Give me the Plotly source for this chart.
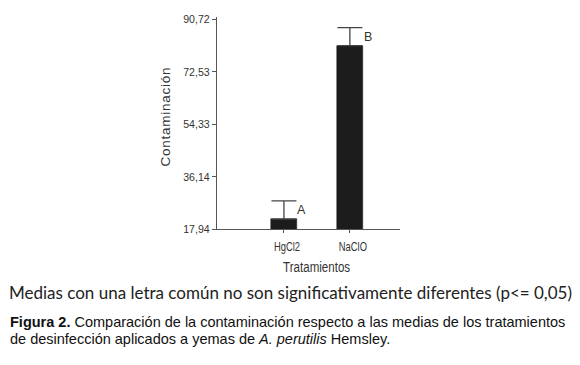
import plotly.graph_objects as go

# ---- data ----
categories = ["HgCl2", "NaClO"]
means = [21.4, 81.6]
errors = [6.3, 6.2]
letters = ["A", "B"]
ytick_vals = [17.94, 36.14, 54.33, 72.53, 90.72]
ytick_text = ["17,94", "36,14", "54,33", "72,53", "90,72"]

W, H = 580, 365
L, R, T, B = 217, 180, 17, 136
pw, ph = W - L - R, H - T - B

def px_x(x):
    return (x - L) / pw

def px_y(y):
    return (H - B - y) / ph

xpos = list(range(len(categories)))
axis_col = "#555555"
sans = "Liberation Sans, Arial"
tick_font = dict(family=sans, size=11.5, color="#333333")

fig = go.Figure()
fig.add_trace(go.Bar(
    x=xpos, y=means, width=0.39,
    marker=dict(color="#1c1c1c", line=dict(color="#1c1c1c", width=0.5)),
    error_y=dict(type="data", symmetric=False, array=errors,
                 arrayminus=[0] * len(errors), color="#444444",
                 thickness=1.3, width=12.5),
    showlegend=False, hoverinfo="skip",
))

for i, (m, e, lt) in enumerate(zip(means, errors, letters)):
    fig.add_annotation(x=xpos[i], y=m + e, text=lt, showarrow=False,
                       xshift=18, yshift=-9, xanchor="center", yanchor="middle",
                       font=dict(family=sans, size=12.5, color="#333333"))

# axis titles
fig.add_annotation(xref="paper", yref="paper", x=px_x(165.5), y=px_y(117.5),
                   text="Contaminación", textangle=-90, showarrow=False,
                   xanchor="center", yanchor="middle",
                   font=dict(family=sans, size=13.5, color="#333333"))
fig.add_annotation(xref="paper", yref="paper", x=px_x(316.5), y=px_y(267),
                   text="Tratamientos", showarrow=False,
                   xanchor="center", yanchor="middle",
                   font=dict(family=sans, size=14, color="#333333"))

# footnote and caption
fig.add_annotation(xref="paper", yref="paper", x=px_x(290.5), y=px_y(292),
                   text="Medias con una letra común no son significativamente diferentes (p<= 0,05)",
                   showarrow=False, xanchor="center", yanchor="middle",
                   font=dict(family="Lato", size=17, color="#222222"))
fig.add_annotation(xref="paper", yref="paper", x=px_x(8), y=px_y(322),
                   text="<b>Figura 2.</b> Comparación de la contaminación respecto a las medias de los tratamientos",
                   showarrow=False, xanchor="left", yanchor="middle",
                   font=dict(family=sans, size=14.5, color="#111111"))
fig.add_annotation(xref="paper", yref="paper", x=px_x(8), y=px_y(339),
                   text="de desinfección aplicados a yemas de <i>A. perutilis</i> Hemsley.",
                   showarrow=False, xanchor="left", yanchor="middle",
                   font=dict(family=sans, size=14.5, color="#111111"))

fig.update_layout(
    width=W, height=H,
    margin=dict(l=L, r=R, t=T, b=B, pad=0),
    paper_bgcolor="white", plot_bgcolor="white",
    bargap=0,
    xaxis=dict(range=[-1.015, 1.76], tickvals=xpos, ticktext=categories,
               showline=True, linecolor=axis_col, linewidth=1,
               ticks="outside", ticklen=3, tickcolor=axis_col,
               ticklabelshift=3, ticklabelstandoff=2,
               showgrid=False, zeroline=False,
               tickfont=dict(family=sans, size=13, color="#333333")),
    yaxis=dict(range=[17.94, 91.5], tickvals=ytick_vals, ticktext=ytick_text,
               showline=True, linecolor=axis_col, linewidth=1,
               ticks="outside", ticklen=4, tickcolor=axis_col,
               showgrid=False, zeroline=False, tickfont=tick_font),
)

post = """
document.body.style.margin = '0';
function squeeze(sel, f) {
  document.querySelectorAll(sel).forEach(function(t){
    var w = t.getComputedTextLength();
    t.setAttribute('textLength', (w * f).toFixed(2));
    t.setAttribute('lengthAdjust', 'spacingAndGlyphs');
  });
}
squeeze('.xtick text', 0.72);
squeeze('.ytick text', 0.92);
document.querySelectorAll('text.annotation-text').forEach(function(t){
  if (t.textContent === 'Contaminación') {
    t.setAttribute('textLength', '99'); t.setAttribute('lengthAdjust', 'spacing');
  }
  if (t.textContent === 'Tratamientos') {
    t.setAttribute('textLength', '67'); t.setAttribute('lengthAdjust', 'spacingAndGlyphs');
  }
});
"""
fig.write_html("out.html", post_script=post, config={"displayModeBar": False})
